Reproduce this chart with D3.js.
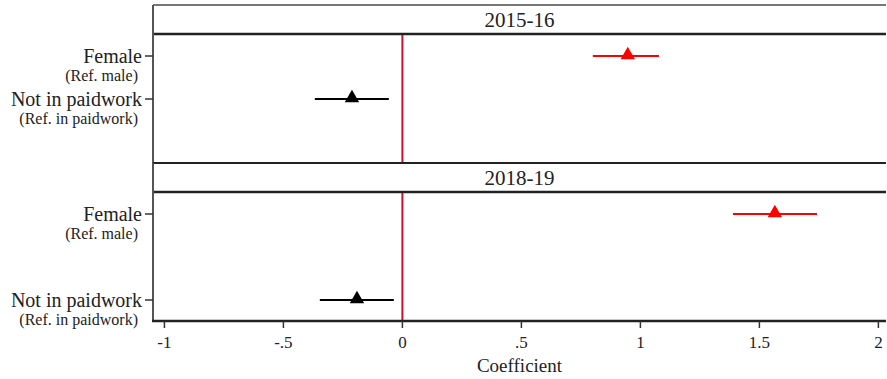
<!DOCTYPE html>
<html>
<head>
<meta charset="utf-8">
<script src="https://cdn.jsdelivr.net/npm/d3@7"></script>
<style>
  body { margin: 0; background: #fff; }
  text { font-family: "Liberation Serif", "Times New Roman", serif; fill: #222; }
</style>
</head>
<body>
<div id="chart"></div>
<script>
// panels and rows
var panels = ["2015-16", "2018-19"];
var rowLabels = ["Female", "Not in paidwork"];
var rowRefs = ["(Ref. male)", "(Ref. in paidwork)"];
// panel 1 keeps an empty third slot
var panelSlots = [["Female", "Not in paidwork", ""], ["Female", "Not in paidwork"]];

// coefficients with 95% CI
var est2015 = [0.947, -0.212];
var lo2015 = [0.800, -0.368];
var hi2015 = [1.078, -0.057];
var est2018 = [1.565, -0.191];
var lo2018 = [1.389, -0.347];
var hi2018 = [1.742, -0.036];

var xTicks = [-1, -0.5, 0, 0.5, 1, 1.5, 2];
var xTickLabels = ["-1", "-.5", "0", ".5", "1", "1.5", "2"];
var rowColors = ["#ff0000", "#000000"];

var W = 887, H = 379;
var leftX = 153, rightX = 886;
var stripH = 29, plotH = 129, topY = 5;

var svg = d3.select("#chart").append("svg")
    .attr("width", W)
    .attr("height", H);

var x = d3.scaleLinear().domain([-1.048, 2.032]).range([leftX, rightX]);

var estimates = [est2015, est2018];
var lows = [lo2015, lo2018];
var highs = [hi2015, hi2018];

panels.forEach(function (p, i) {
    var y0 = topY + i * (stripH + plotH);
    var py = y0 + stripH;
    var g = svg.append("g");

    // strip
    g.append("line").attr("x1", leftX).attr("x2", rightX).attr("y1", y0).attr("y2", y0)
        .attr("stroke", i == 0 ? "#777" : "#222").attr("stroke-width", 2);
    g.append("text").attr("x", (leftX + rightX) / 2).attr("y", y0 + stripH / 2 + 7)
        .attr("text-anchor", "middle").style("font-size", "21px").text(p);
    g.append("line").attr("x1", leftX).attr("x2", rightX).attr("y1", py).attr("y2", py)
        .attr("stroke", "#222").attr("stroke-width", 2.5);

    // left axis
    g.append("line").attr("x1", leftX).attr("x2", leftX).attr("y1", y0).attr("y2", py + plotH)
        .attr("stroke", "#555").attr("stroke-width", 2);

    var y = d3.scalePoint().domain(panelSlots[i]).range([py + 22, py + plotH - 21]);

    // zero line
    g.append("line").attr("x1", x(0)).attr("x2", x(0)).attr("y1", py + 1).attr("y2", py + plotH)
        .attr("stroke", "#c8102e").attr("stroke-width", 2);

    rowLabels.forEach(function (r, j) {
        var yy = y(r);
        g.append("line").attr("x1", leftX - 8).attr("x2", leftX).attr("y1", yy).attr("y2", yy)
            .attr("stroke", "#333").attr("stroke-width", 1.5);
        g.append("text").attr("x", leftX - 11).attr("y", yy + 7)
            .attr("text-anchor", "end").style("font-size", "20px").text(r);
        g.append("text").attr("x", leftX - 15).attr("y", yy + 25)
            .attr("text-anchor", "end").style("font-size", "16px").text(rowRefs[j]);

        // CI
        g.append("line").attr("x1", x(lows[i][j])).attr("x2", x(highs[i][j]))
            .attr("y1", yy).attr("y2", yy)
            .attr("stroke", rowColors[j]).attr("stroke-width", 2.2);
        // point
        g.append("path")
            .attr("d", d3.symbol().type(d3.symbolTriangle).size(90))
            .attr("transform", "translate(" + x(estimates[i][j]) + "," + (yy - 1) + ")")
            .attr("fill", rowColors[j]);
    });
});

// bottom axis
var axisY = topY + 2 * (stripH + plotH);
svg.append("line").attr("x1", leftX - 1).attr("x2", rightX).attr("y1", axisY).attr("y2", axisY)
    .attr("stroke", "#222").attr("stroke-width", 2.5);
xTicks.forEach(function (t, k) {
    svg.append("line").attr("x1", x(t)).attr("x2", x(t)).attr("y1", axisY).attr("y2", axisY + 7)
        .attr("stroke", "#333").attr("stroke-width", 1.5);
    svg.append("text").attr("x", x(t)).attr("y", axisY + 27)
        .attr("text-anchor", "middle").style("font-size", "17px").text(xTickLabels[k]);
});
svg.append("text").attr("x", (leftX + rightX) / 2).attr("y", axisY + 51)
    .attr("text-anchor", "middle").style("font-size", "19px").text("Coefficient");
</script>
</body>
</html>
